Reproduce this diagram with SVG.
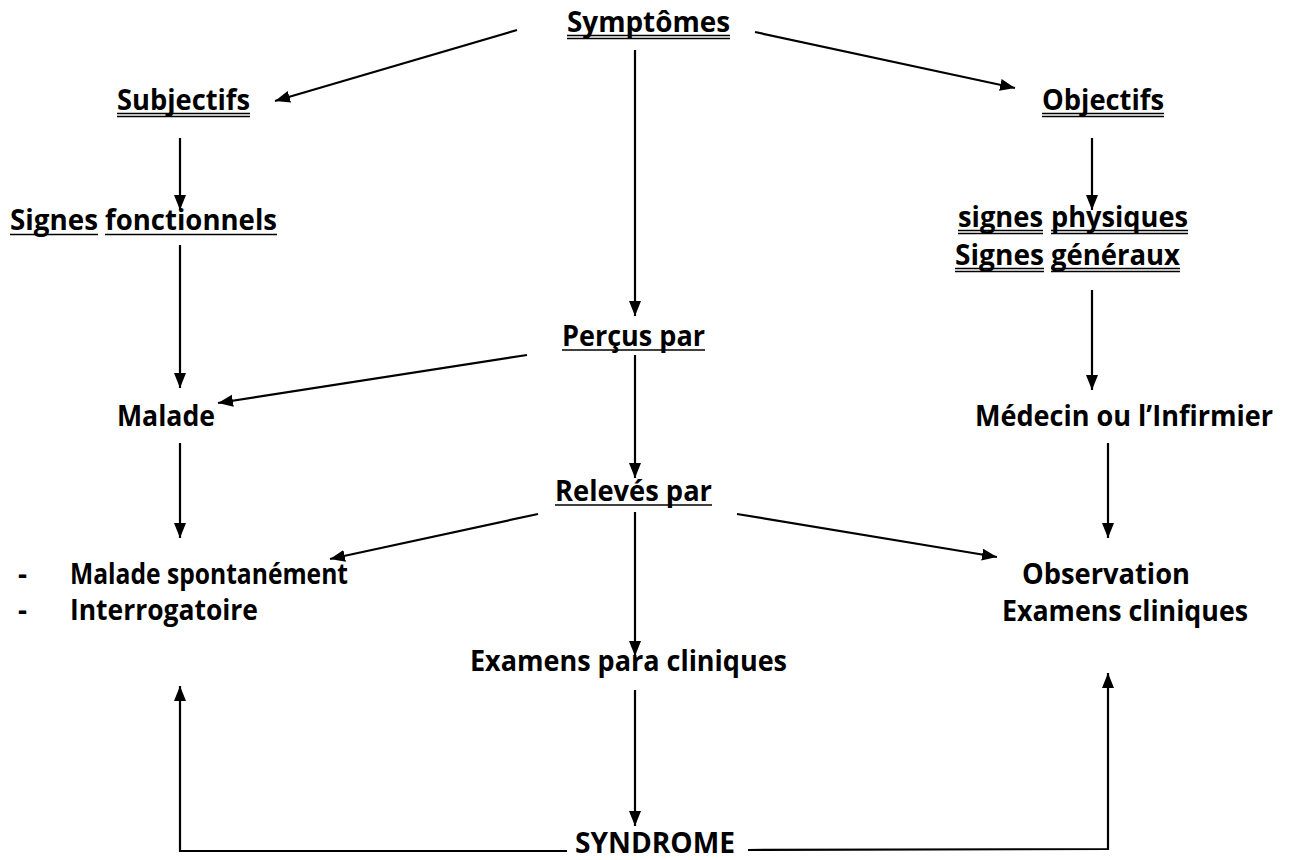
<svg xmlns="http://www.w3.org/2000/svg" width="1289" height="860" viewBox="0 0 1289 860">
<defs>
<marker id="ah" markerUnits="userSpaceOnUse" markerWidth="16" markerHeight="14" refX="15" refY="7" orient="auto">
<path d="M0,1 L15,7 L0,13 z" fill="#000"/>
</marker>
<style>
text{font-family:"Open Sans","Liberation Sans",sans-serif;font-weight:700;font-size:28px;fill:#000}
.c{stroke:#000;stroke-width:2.2;fill:none;marker-end:url(#ah)}
.u{stroke:#000;stroke-width:1.5}
</style>
</defs>
<rect width="1289" height="860" fill="#fff"/>
<g id="connectors">
<line class="c" x1="517" y1="30" x2="275" y2="101"/>
<line class="c" x1="755" y1="32" x2="1015" y2="88"/>
<line class="c" x1="635" y1="50" x2="635" y2="316"/>
<line class="c" x1="180" y1="138" x2="180" y2="210"/>
<line class="c" x1="1092" y1="138" x2="1092" y2="210"/>
<line class="c" x1="180" y1="245" x2="180" y2="388"/>
<line class="c" x1="1092" y1="290" x2="1092" y2="390"/>
<line class="c" x1="527" y1="355" x2="218" y2="403"/>
<line class="c" x1="635" y1="355" x2="635" y2="478"/>
<line class="c" x1="180" y1="443" x2="180" y2="538"/>
<line class="c" x1="1108" y1="443" x2="1108" y2="538"/>
<line class="c" x1="538" y1="514" x2="330" y2="559"/>
<line class="c" x1="737" y1="514" x2="997" y2="557"/>
<line class="c" x1="635" y1="512" x2="635" y2="656"/>
<line class="c" x1="635" y1="690" x2="635" y2="826"/>
<polyline class="c" points="567,851 180,851 180,686"/>
<polyline class="c" points="748,850 1108,849 1108,673"/>
</g>
<g id="n-symptomes">
<text x="567" y="32" textLength="163" lengthAdjust="spacingAndGlyphs">Symptômes</text>
<line class="u" x1="567" y1="35.5" x2="730" y2="35.5"/><line class="u" x1="567" y1="38.5" x2="730" y2="38.5"/>
</g>
<g id="n-subjectifs">
<text x="117" y="110" textLength="133" lengthAdjust="spacingAndGlyphs">Subjectifs</text>
<line class="u" x1="117" y1="113.5" x2="250" y2="113.5"/><line class="u" x1="117" y1="116.5" x2="250" y2="116.5"/>
</g>
<g id="n-objectifs">
<text x="1042" y="110" textLength="122" lengthAdjust="spacingAndGlyphs">Objectifs</text>
<line class="u" x1="1042" y1="113.5" x2="1164" y2="113.5"/><line class="u" x1="1042" y1="116.5" x2="1164" y2="116.5"/>
</g>
<g id="n-signes-fonctionnels">
<text x="10" y="230" textLength="88" lengthAdjust="spacingAndGlyphs">Signes</text>
<text x="105" y="230" textLength="172" lengthAdjust="spacingAndGlyphs">fonctionnels</text>
<line class="u" x1="10" y1="234.5" x2="98" y2="234.5"/><line class="u" x1="105" y1="234.5" x2="277" y2="234.5"/>
</g>
<g id="n-signes-physiques">
<text x="958" y="227" textLength="85" lengthAdjust="spacingAndGlyphs">signes</text>
<text x="1051" y="227" textLength="137" lengthAdjust="spacingAndGlyphs">physiques</text>
<line class="u" x1="958" y1="230.5" x2="1043" y2="230.5"/><line class="u" x1="958" y1="233.5" x2="1043" y2="233.5"/>
<line class="u" x1="1051" y1="230.5" x2="1188" y2="230.5"/><line class="u" x1="1051" y1="233.5" x2="1188" y2="233.5"/>
<text x="955" y="265" textLength="89" lengthAdjust="spacingAndGlyphs">Signes</text>
<text x="1051" y="265" textLength="129" lengthAdjust="spacingAndGlyphs">généraux</text>
<line class="u" x1="955" y1="268.5" x2="1044" y2="268.5"/><line class="u" x1="955" y1="271.5" x2="1044" y2="271.5"/>
<line class="u" x1="1051" y1="268.5" x2="1180" y2="268.5"/><line class="u" x1="1051" y1="271.5" x2="1180" y2="271.5"/>
</g>
<g id="n-percus">
<text x="562" y="346" textLength="143" lengthAdjust="spacingAndGlyphs">Perçus par</text>
<line class="u" x1="562" y1="350" x2="705" y2="350"/>
</g>
<g id="n-releves">
<text x="555" y="501" textLength="157" lengthAdjust="spacingAndGlyphs">Relevés par</text>
<line class="u" x1="555" y1="505" x2="712" y2="505"/>
</g>
<g id="n-malade">
<text x="117" y="426" textLength="98" lengthAdjust="spacingAndGlyphs">Malade</text>
</g>
<g id="n-medecin">
<text x="975" y="426" textLength="298" lengthAdjust="spacingAndGlyphs">Médecin ou l’Infirmier</text>
</g>
<g id="n-malade-spont">
<text x="18" y="584">-</text>
<text x="70" y="584" textLength="278" lengthAdjust="spacingAndGlyphs">Malade spontanément</text>
<text x="18" y="620">-</text>
<text x="70" y="620" textLength="188" lengthAdjust="spacingAndGlyphs">Interrogatoire</text>
</g>
<g id="n-observation">
<text x="1022" y="584" textLength="168" lengthAdjust="spacingAndGlyphs">Observation</text>
<text x="1002" y="621" textLength="246" lengthAdjust="spacingAndGlyphs">Examens cliniques</text>
</g>
<g id="n-examens-para">
<text x="470" y="671" textLength="317" lengthAdjust="spacingAndGlyphs">Examens para cliniques</text>
</g>
<g id="n-syndrome">
<text x="575" y="853" textLength="160" lengthAdjust="spacingAndGlyphs">SYNDROME</text>
</g>
</svg>
